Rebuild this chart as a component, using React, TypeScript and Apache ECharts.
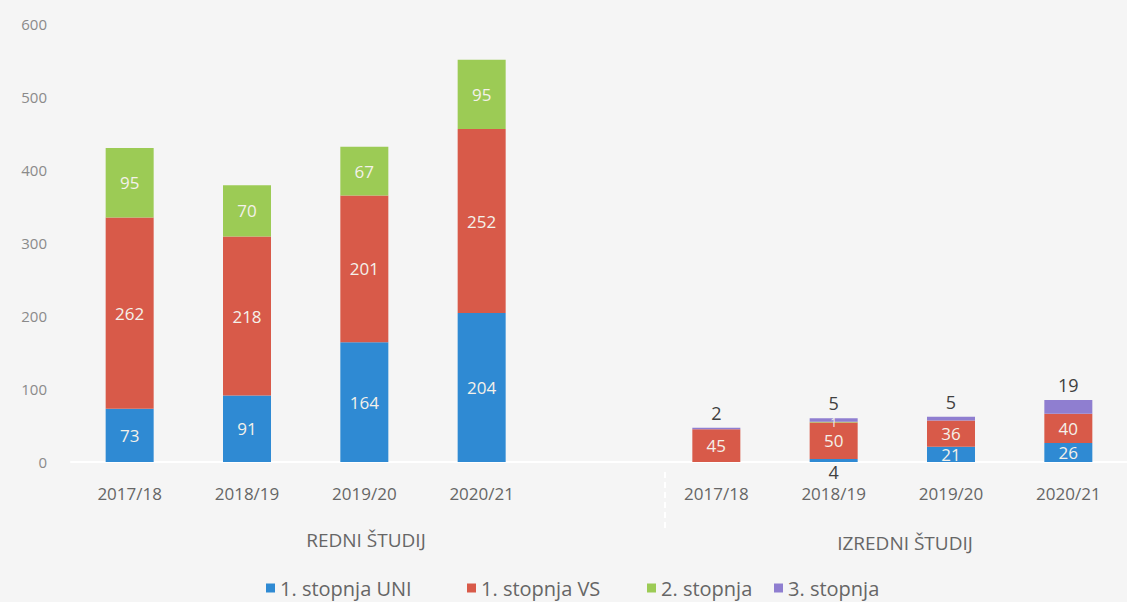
import React, { useEffect, useRef } from "react";
import * as echarts from "echarts";

const categories = ["2017/18", "2018/19", "2019/20", "2020/21"];
const groupLabels = ["REDNI ŠTUDIJ", "IZREDNI ŠTUDIJ"];
const seriesNames = ["1. stopnja UNI", "1. stopnja VS", "2. stopnja", "3. stopnja"];

const uniRedni = [73, 91, 164, 204];
const vsRedni = [262, 218, 201, 252];
const s2Redni = [95, 70, 67, 95];
const s3Redni = [0, 0, 0, 0];

const uniIzredni = [0, 4, 21, 26];
const vsIzredni = [45, 50, 36, 40];
const s2Izredni = [0, 1, 0, 0];
const s3Izredni = [2, 5, 5, 19];

const yTicks = [0, 100, 200, 300, 400, 500, 600];

const colors = ["#2f8ad3", "#d85a49", "#9ccb55", "#8f7ed0"];
const FONT = "'Open Sans', 'Noto Sans', sans-serif";
const legendLefts = [266, 467, 647, 774];

type Mode = "inside" | "below" | "above";

function buildData(redni: number[], izredni: number[], smallMode: Mode, allMode?: Mode) {
  const values: (number | null)[] = [...redni, null, ...izredni];
  return values.map((v) => {
    if (v === null) return { value: null };
    const mode: Mode = allMode ?? (v < 10 ? smallMode : "inside");
    const label: any = {
      show: v > 0,
      formatter: "{c}",
      fontFamily: FONT,
      fontSize: 17,
    };
    if (mode === "inside") {
      label.position = "inside";
      label.color = "#f4f1ea";
      if (v < 3) {
        label.fontSize = 12;
        label.offset = [0, 0];
      }
    } else if (mode === "below") {
      label.position = "bottom";
      label.distance = 1;
      label.color = "#404040";
      label.fontSize = 18;
    } else {
      label.position = "top";
      label.distance = 6;
      label.color = "#404040";
      label.fontSize = 18;
    }
    return { value: v, label };
  });
}

export default function App() {
  const ref = useRef<HTMLDivElement>(null);
  useEffect(() => {
    if (!ref.current) return;
    const chart = echarts.init(ref.current, undefined, { renderer: "svg" });
    const xData = [...categories, "", ...categories];
    const dataSets = [
      buildData(uniRedni, uniIzredni, "below"),
      buildData(vsRedni, vsIzredni, "inside"),
      buildData(s2Redni, s2Izredni, "inside"),
      buildData(s3Redni, s3Izredni, "above", "above"),
    ];
    chart.setOption({
      animation: false,
      backgroundColor: "#f5f5f5",
      textStyle: { fontFamily: FONT },
      grid: { left: 71, right: -13, top: 24, bottom: 140 },
      legend: seriesNames.map((name, i) => ({
        top: 578,
        left: legendLefts[i],
        padding: 0,
        icon: "rect",
        itemWidth: 9,
        itemHeight: 9,
        itemGap: 6,
        textStyle: { color: "#666", fontSize: 20, fontFamily: FONT },
        data: [name],
      })),
      xAxis: {
        type: "category",
        data: xData,
        axisLine: { show: true, lineStyle: { color: "#ffffff", width: 2 } },
        axisTick: { show: false },
        axisLabel: { color: "#666", fontSize: 17, margin: 23, fontFamily: FONT, interval: 0 },
      },
      yAxis: {
        type: "value",
        min: yTicks[0],
        max: yTicks[yTicks.length - 1],
        interval: 100,
        axisLine: { show: false },
        axisTick: { show: false },
        splitLine: { show: false },
        axisLabel: { color: "#8a8a8a", fontSize: 15, margin: 24, fontFamily: FONT },
      },
      series: seriesNames.map((name, i) => ({
        name,
        type: "bar",
        stack: "total",
        barWidth: 48,
        itemStyle: { color: colors[i] },
        data: dataSets[i],
      })),
      graphic: [
        {
          type: "text",
          x: 366,
          y: 540,
          style: {
            text: groupLabels[0],
            fill: "#666",
            fontSize: 19,
            fontFamily: FONT,
            textAlign: "center",
            textVerticalAlign: "middle",
          },
        },
        {
          type: "text",
          x: 905,
          y: 543,
          style: {
            text: groupLabels[1],
            fill: "#666",
            fontSize: 19,
            fontFamily: FONT,
            textAlign: "center",
            textVerticalAlign: "middle",
          },
        },
        {
          type: "line",
          shape: { x1: 665, y1: 472, x2: 665, y2: 530 },
          style: { stroke: "#ffffff", lineWidth: 2, lineDash: [6, 4] },
        },
      ],
    });
    return () => chart.dispose();
  }, []);
  return (
    <div
      ref={ref}
      style={{ position: "fixed", left: 0, top: 0, width: 1127, height: 602, background: "#f5f5f5" }}
    />
  );
}
